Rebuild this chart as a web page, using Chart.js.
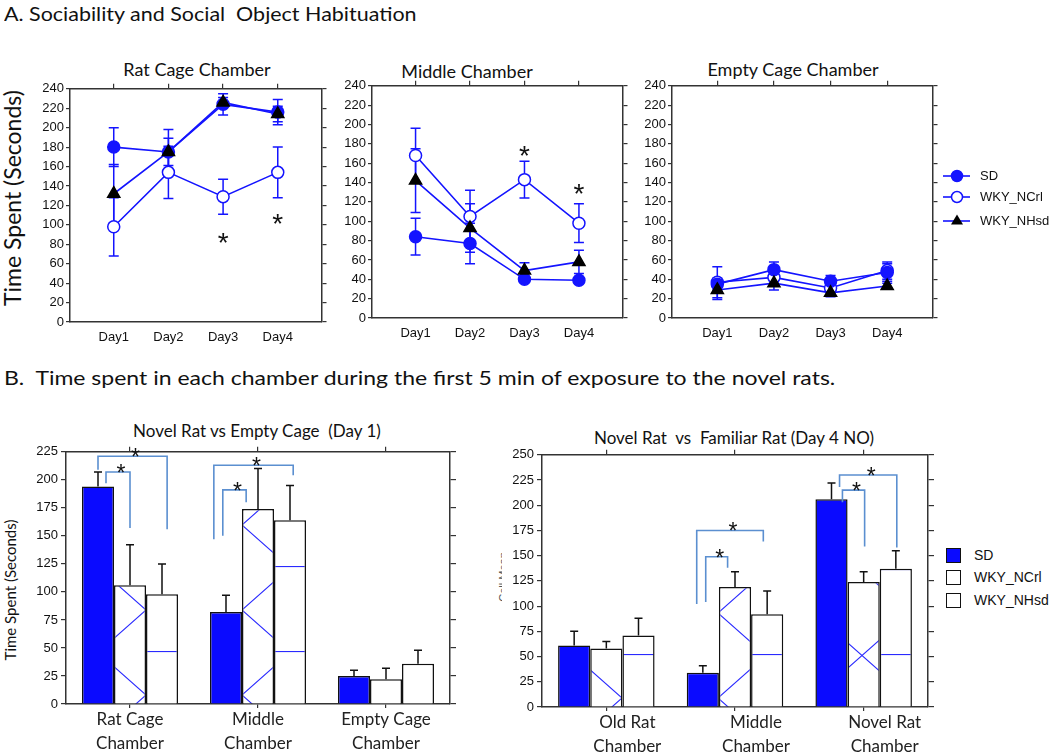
<!DOCTYPE html>
<html>
<head>
<meta charset="utf-8">
<script src="https://cdn.jsdelivr.net/npm/chart.js@4.4.1/dist/chart.umd.min.js"></script>
<style>
  body { margin: 0; background: #fff; width: 1050px; height: 752px; position: relative; overflow: hidden; font-family: Lato, sans-serif; color: #111; }
  canvas { position: absolute; }
  .t { position: absolute; white-space: nowrap; }
  .c { transform: translate(-50%, -50%); }
  .r { transform: translate(-50%, -50%) rotate(-90deg); }
  .lg { position: absolute; font-family: 'Liberation Sans', Arial, sans-serif; white-space: nowrap; }
</style>
</head>
<body>
<div class="t" style="left:4px;top:2px;font-size:19px;transform:scaleX(1.13);transform-origin:0 0">A. Sociability and Social&nbsp; Object Habituation</div>
<div class="t r" style="left:12px;top:198px;font-size:23px">Time Spent (Seconds)</div>
<div class="t c" style="left:197px;top:69px;font-size:18px">Rat Cage Chamber</div>
<div class="t c" style="left:467px;top:71px;font-size:18px">Middle Chamber</div>
<div class="t c" style="left:793px;top:69px;font-size:18px">Empty Cage Chamber</div>

<canvas id="ratCage" width="296" height="271" style="left:34px;top:79px"></canvas>
<canvas id="middle" width="295" height="270" style="left:336px;top:76px"></canvas>
<canvas id="empty" width="305" height="270" style="left:636px;top:76px"></canvas>

<svg class="lg" style="left:940px;top:165px" width="34" height="66">
  <line x1="3" y1="11" x2="30" y2="11" stroke="#1414ff" stroke-width="1.6"/>
  <circle cx="17" cy="11" r="5.5" fill="#1414ff" stroke="#1414ff" stroke-width="1.5"/>
  <line x1="3" y1="32" x2="30" y2="32" stroke="#1414ff" stroke-width="1.6"/>
  <circle cx="17" cy="32" r="5.5" fill="#fff" stroke="#1414ff" stroke-width="1.5"/>
  <line x1="3" y1="56" x2="30" y2="56" stroke="#1414ff" stroke-width="1.6"/>
  <polygon points="17,49.5 23,59.5 11,59.5" fill="#000"/>
</svg>
<div class="lg" style="left:980px;top:168px;font-size:13px">SD</div>
<div class="lg" style="left:980px;top:189px;font-size:13px">WKY_NCrl</div>
<div class="lg" style="left:980px;top:213px;font-size:13px">WKY_NHsd</div>

<div class="t" style="left:4px;top:365px;font-size:20px;transform:scaleX(1.15);transform-origin:0 0">B.&nbsp; Time spent in each chamber during the first 5 min of exposure to the novel rats.</div>
<div class="t c" style="left:257px;top:430px;font-size:17px">Novel Rat vs Empty Cage&nbsp; (Day 1)</div>
<div class="t c" style="left:734px;top:437px;font-size:17px">Novel Rat&nbsp; vs&nbsp; Familiar Rat (Day 4 NO)</div>
<div class="t r" style="left:10px;top:590px;font-size:15px">Time Spent (Seconds)</div>
<div style="position:absolute;left:495px;top:540px;width:7px;height:75px;overflow:hidden">
  <div class="t r" style="left:8px;top:37px;font-size:11px;font-family:'Liberation Sans',Arial,sans-serif;color:#555">Cell Mean</div>
</div>

<canvas id="day1" width="439" height="311" style="left:21px;top:441px"></canvas>
<canvas id="day4" width="441" height="308" style="left:497px;top:444px"></canvas>

<div style="position:absolute;left:946px;top:548px;width:13px;height:13px;border:1.5px solid #111;background:#0a0aff"></div>
<div style="position:absolute;left:946px;top:570px;width:13px;height:13px;border:1.5px solid #111;background:#fff"></div>
<div style="position:absolute;left:946px;top:593px;width:13px;height:13px;border:1.5px solid #111;background:#fff"></div>
<div class="lg" style="left:974px;top:547px;font-size:14px">SD</div>
<div class="lg" style="left:974px;top:569px;font-size:14px">WKY_NCrl</div>
<div class="lg" style="left:974px;top:592px;font-size:14px">WKY_NHsd</div>

<script>
// ---- data ----
const days = ['Day1', 'Day2', 'Day3', 'Day4'];

const ratCageSD = [180, 175, 224, 216];
const ratCageSDErr = [20, 23, 11, 13];
const ratCageNCrl = [98, 154, 129, 154];
const ratCageNCrlErr = [30, 27, 18, 26];
const ratCageNHsd = [132, 175, 226, 214];
const ratCageNHsdErr = [30, 14, 5, 8];
const ratCageStars = [null, null, 88, 108];

const middleSD = [84, 77, 40, 39];
const middleSDErr = [19, 21, 3, 2];
const middleNCrl = [168, 105, 143, 98];
const middleNCrlErr = [28, 27, 19, 20];
const middleNHsd = [142, 93, 49, 58];
const middleNHsdErr = [33, 25, 8, 12];
const middleStars = [null, null, 175, 135];

const emptySD = [35, 50, 38, 47];
const emptySDErr = [6, 8, 6, 9];
const emptyNCrl = [37, 42, 31, 49];
const emptyNCrlErr = [16, 6, 5, 9];
const emptyNHsd = [29, 36, 26, 33];
const emptyNHsdErr = [10, 7, 4, 3];

const day1Chambers = [['Rat Cage', 'Chamber'], ['Middle', 'Chamber'], ['Empty Cage', 'Chamber']];
const day1SD = [194, 82, 25];
const day1SDErr = [13, 15, 5];
const day1NCrl = [106, 174, 22];
const day1NCrlErr = [36, 36, 10];
const day1NHsd = [98, 164, 36];
const day1NHsdErr = [27, 31, 12];

const day4Chambers = [['Old Rat', 'Chamber'], ['Middle', 'Chamber'], ['Novel Rat', 'Chamber']];
const day4SD = [61, 34, 206];
const day4SDErr = [14, 7, 16];
const day4NCrl = [58, 119, 124];
const day4NCrlErr = [7, 15, 10];
const day4NHsd = [71, 92, 137];
const day4NHsdErr = [17, 23, 18];

// significance brackets: group, bars joined, leg heights (data units)
const day1Brackets = [
  { group: 0, from: 0, fromDx: 0, to: 2, toDx: 0.16, yFrom: 209, yTop: 221, yTo: 156 },
  { group: 0, from: 0, fromDx: 0.25, to: 1, toDx: 0, yFrom: 197, yTop: 207, yTo: 157 },
  { group: 1, from: 0, fromDx: -0.38, to: 2, toDx: 0.1, yFrom: 147, yTop: 213, yTo: 204 },
  { group: 1, from: 0, fromDx: -0.1, to: 1, toDx: -0.37, yFrom: 150, yTop: 191, yTo: 180 }
];
const day4Brackets = [
  { group: 1, from: 0, fromDx: -0.19, to: 2, toDx: -0.12, yFrom: 102, yTop: 175, yTo: 164 },
  { group: 1, from: 0, fromDx: 0.09, to: 1, toDx: -0.23, yFrom: 104, yTop: 149, yTo: 138 },
  { group: 2, from: 0, fromDx: 0.25, to: 2, toDx: 0.03, yFrom: 218, yTop: 230, yTo: 158 },
  { group: 2, from: 0, fromDx: 0.34, to: 1, toDx: 0.03, yFrom: 203, yTop: 215, yTo: 159 }
];

const BLUE = '#1414ff';
const AXIS = '#333';
const tickFont = { family: "'Liberation Sans', Arial, sans-serif", size: 13 };

// ---- plugins ----
const errorBars = {
  id: 'errorBars',
  beforeDatasetsDraw(chart, args, opts) {
    const ctx = chart.ctx, ys = chart.scales.y;
    chart.data.datasets.forEach((ds, di) => {
      if (!ds.errors) return;
      const meta = chart.getDatasetMeta(di);
      ctx.save();
      ctx.strokeStyle = opts.color;
      ctx.lineWidth = opts.width;
      meta.data.forEach((el, i) => {
        const v = typeof ds.data[i] === 'object' ? ds.data[i].y : ds.data[i];
        const e = ds.errors[i];
        const top = ys.getPixelForValue(v + e);
        const bot = opts.upOnly ? ys.getPixelForValue(v) : ys.getPixelForValue(v - e);
        ctx.beginPath();
        ctx.moveTo(el.x, top); ctx.lineTo(el.x, bot);
        ctx.moveTo(el.x - opts.cap, top); ctx.lineTo(el.x + opts.cap, top);
        if (!opts.upOnly) { ctx.moveTo(el.x - opts.cap, bot); ctx.lineTo(el.x + opts.cap, bot); }
        ctx.stroke();
      });
      ctx.restore();
    });
  }
};

const stars = {
  id: 'stars',
  afterDatasetsDraw(chart, args, opts) {
    if (!opts.values) return;
    const ctx = chart.ctx;
    ctx.save();
    ctx.fillStyle = '#111';
    ctx.font = "28px 'Liberation Sans', Arial";
    ctx.textAlign = 'center';
    opts.values.forEach((v, i) => {
      if (v == null) return;
      const x = chart.scales.x.getPixelForValue(i + 1);
      const y = chart.scales.y.getPixelForValue(v);
      ctx.fillText('*', x, y + 16);
    });
    ctx.restore();
  }
};

const brackets = {
  id: 'brackets',
  afterDatasetsDraw(chart, args, opts) {
    if (!opts.items) return;
    const ctx = chart.ctx, ys = chart.scales.y;
    ctx.save();
    opts.items.forEach(b => {
      const a = chart.getDatasetMeta(b.from).data[b.group];
      const c = chart.getDatasetMeta(b.to).data[b.group];
      const x1 = a.x + b.fromDx * a.width, x2 = c.x + b.toDx * c.width;
      const top = ys.getPixelForValue(b.yTop);
      ctx.strokeStyle = '#5b8fd0';
      ctx.lineWidth = 1.6;
      ctx.beginPath();
      ctx.moveTo(x1, ys.getPixelForValue(b.yFrom));
      ctx.lineTo(x1, top); ctx.lineTo(x2, top);
      ctx.lineTo(x2, ys.getPixelForValue(b.yTo));
      ctx.stroke();
      ctx.fillStyle = '#111';
      ctx.font = "23px 'Liberation Sans', Arial";
      ctx.textAlign = 'center';
      ctx.fillText('*', (x1 + x2) / 2 + 3, top + 9);
    });
    ctx.restore();
  }
};

// ---- line charts ----
const pts = a => a.map((v, i) => ({ x: i + 1, y: v }));
const dayTicks = s => { s.ticks = days.map((d, i) => ({ value: i + 1 })); };

function lineChart(id, sd, sdErr, ncrl, ncrlErr, nhsd, nhsdErr, starVals) {
  const base = { borderColor: BLUE, borderWidth: 1.6, tension: 0, pointBorderWidth: 1.5 };
  return new Chart(document.getElementById(id), {
    type: 'line',
    data: {
      datasets: [
        { ...base, label: 'WKY_NHsd', data: pts(nhsd), errors: nhsdErr, pointStyle: 'triangle', pointRadius: 7, pointBackgroundColor: '#000', pointBorderColor: '#000' },
        { ...base, label: 'SD', data: pts(sd), errors: sdErr, pointStyle: 'circle', pointRadius: 6, pointBackgroundColor: BLUE, pointBorderColor: BLUE },
        { ...base, label: 'WKY_NCrl', data: pts(ncrl), errors: ncrlErr, pointStyle: 'circle', pointRadius: 6, pointBackgroundColor: '#fff', pointBorderColor: BLUE }
      ]
    },
    options: {
      responsive: false,
      animation: false,
      layout: { padding: 0 },
      plugins: {
        legend: { display: false },
        tooltip: { enabled: false },
        errorBars: { color: BLUE, width: 1.5, cap: 5, upOnly: false },
        stars: { values: starVals }
      },
      scales: {
        x: {
          type: 'linear', min: 0.2, max: 4.8, afterBuildTicks: dayTicks,
          ticks: { callback: v => days[v - 1], font: { ...tickFont, size: 13 }, color: '#111', padding: 8, maxRotation: 0, autoSkip: false },
          grid: { drawOnChartArea: false, drawTicks: false },
          border: { color: AXIS, width: 1.5 },
          afterFit: s => { s.height = 28; }
        },
        x2: {
          type: 'linear', position: 'top', min: 0.2, max: 4.8, afterBuildTicks: dayTicks,
          ticks: { display: false },
          grid: { drawOnChartArea: false, tickLength: 5, color: AXIS, lineWidth: 1.2 },
          border: { color: AXIS, width: 1.5 },
          afterFit: s => { s.height = 6; }
        },
        y: {
          min: 0, max: 240,
          ticks: { stepSize: 20, font: tickFont, color: '#111', padding: 2 },
          grid: { drawOnChartArea: false, tickLength: 4, color: AXIS, lineWidth: 1.2 },
          border: { color: AXIS, width: 1.5 },
          afterFit: s => { s.width = 36; }
        },
        y2: {
          position: 'right', min: 0, max: 240,
          ticks: { stepSize: 20, display: false },
          grid: { drawOnChartArea: false, tickLength: 5, color: AXIS, lineWidth: 1.2 },
          border: { color: AXIS, width: 1.5 },
          afterFit: s => { s.width = 8; }
        }
      }
    },
    plugins: [errorBars, stars]
  });
}

lineChart('ratCage', ratCageSD, ratCageSDErr, ratCageNCrl, ratCageNCrlErr, ratCageNHsd, ratCageNHsdErr, ratCageStars);
lineChart('middle', middleSD, middleSDErr, middleNCrl, middleNCrlErr, middleNHsd, middleNHsdErr, middleStars);
lineChart('empty', emptySD, emptySDErr, emptyNCrl, emptyNCrlErr, emptyNHsd, emptyNHsdErr, null);

// ---- hatch fills ----
function crossPattern(ctx) {
  const c = document.createElement('canvas');
  c.width = 96; c.height = 85;
  const g = c.getContext('2d');
  g.fillStyle = '#fff'; g.fillRect(0, 0, 96, 85);
  g.strokeStyle = '#2a2aff'; g.lineWidth = 1.1;
  g.beginPath();
  g.moveTo(0, 0); g.lineTo(96, 85);
  g.moveTo(0, 85); g.lineTo(96, 0);
  g.stroke();
  const p = ctx.createPattern(c, 'repeat');
  p.setTransform(new DOMMatrix().translate(29, -1));
  return p;
}
function lineHatch(ctx) {
  const c = document.createElement('canvas');
  c.width = 8; c.height = 85;
  const g = c.getContext('2d');
  g.fillStyle = '#fff'; g.fillRect(0, 0, 8, 85);
  g.fillStyle = '#2a2aff'; g.fillRect(0, 40, 8, 1.1);
  return ctx.createPattern(c, 'repeat');
}

// ---- bar charts ----
function barChart(id, labels, sd, sdErr, ncrl, ncrlErr, nhsd, nhsdErr, yMax, items, labelOffset, xHeight) {
  const cv = document.getElementById(id);
  const ctx = cv.getContext('2d');
  const base = { borderColor: '#111', borderWidth: 1.5, categoryPercentage: 0.75, barPercentage: 1 };
  return new Chart(cv, {
    type: 'bar',
    data: {
      labels: labels,
      datasets: [
        { ...base, label: 'SD', data: sd, errors: sdErr, backgroundColor: '#0a0aff' },
        { ...base, label: 'WKY_NCrl', data: ncrl, errors: ncrlErr, backgroundColor: crossPattern(ctx) },
        { ...base, label: 'WKY_NHsd', data: nhsd, errors: nhsdErr, backgroundColor: lineHatch(ctx) }
      ]
    },
    options: {
      responsive: false,
      animation: false,
      layout: { padding: 0 },
      plugins: {
        legend: { display: false },
        tooltip: { enabled: false },
        errorBars: { color: '#111', width: 1.5, cap: 4, upOnly: true },
        brackets: { items: items }
      },
      scales: {
        x: {
          ticks: { font: { family: 'Lato, sans-serif', size: 17, lineHeight: 1.38 }, color: '#222', padding: 0, labelOffset: labelOffset, maxRotation: 0, autoSkip: false },
          grid: { offset: false, drawOnChartArea: false, tickLength: 4, color: AXIS, lineWidth: 1.2 },
          border: { color: AXIS, width: 1.5 },
          afterFit: s => { s.height = xHeight; }
        },
        x2: {
          type: 'category', position: 'top',
          ticks: { display: false },
          grid: { offset: false, drawOnChartArea: false, tickLength: 5, color: AXIS, lineWidth: 1.2 },
          border: { color: AXIS, width: 1.5 },
          afterFit: s => { s.height = 8; }
        },
        y: {
          min: 0, max: yMax,
          ticks: { stepSize: 25, font: tickFont, color: '#111', padding: 3 },
          grid: { drawOnChartArea: false, tickLength: 5, color: AXIS, lineWidth: 1.2 },
          border: { color: AXIS, width: 1.5 },
          afterFit: s => { s.width = 45; }
        },
        y2: {
          position: 'right', min: 0, max: yMax,
          ticks: { stepSize: 25, display: false },
          grid: { drawOnChartArea: false, tickLength: 6, color: AXIS, lineWidth: 1.2 },
          border: { color: AXIS, width: 1.5 },
          afterFit: s => { s.width = 10; }
        }
      }
    },
    plugins: [errorBars, brackets]
  });
}

barChart('day1', day1Chambers, day1SD, day1SDErr, day1NCrl, day1NCrlErr, day1NHsd, day1NHsdErr, 225, day1Brackets, 0, 48);
barChart('day4', day4Chambers, day4SD, day4SDErr, day4NCrl, day4NCrlErr, day4NHsd, day4NHsdErr, 250, day4Brackets, 21, 45);
</script>
</body>
</html>
